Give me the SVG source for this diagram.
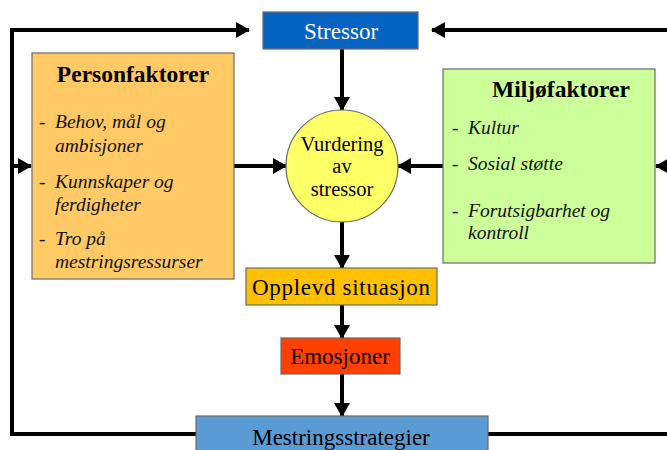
<svg xmlns="http://www.w3.org/2000/svg" width="667" height="450" viewBox="0 0 667 450">
<style>
text{font-family:'Liberation Serif','Times New Roman','DejaVu Serif',serif}
.box{stroke:#6b6b6b;stroke-width:1.2}
.t{font-size:23px;fill:#000}
.title{font-size:23.5px;font-weight:bold;fill:#000}
.it{font-size:19.5px;font-style:italic;fill:#111}
.d{font-size:19.5px;fill:#111}
.c{fill:none;stroke:#000;stroke-width:4}
</style>
<defs>
<marker id="ah" markerUnits="userSpaceOnUse" markerWidth="14" markerHeight="16" refX="13" refY="8" orient="auto">
<path d="M0,0 L14,8 L0,16 Z" fill="#000"/>
</marker>
</defs>
<rect width="667" height="450" fill="#fff"/>
<g id="connectors">
<polyline class="c" points="196,434 12,434 12,30 249,30" marker-end="url(#ah)"/>
<polyline class="c" points="488,434 671,434 671,30 432,30" marker-end="url(#ah)"/>
<line class="c" x1="12" y1="166" x2="31" y2="166" marker-end="url(#ah)"/>
<line class="c" x1="672" y1="166" x2="656" y2="166" marker-end="url(#ah)"/>
<line class="c" x1="342" y1="49" x2="342" y2="110" marker-end="url(#ah)"/>
<line class="c" x1="234" y1="166" x2="286" y2="166" marker-end="url(#ah)"/>
<line class="c" x1="443" y1="166" x2="398" y2="166" marker-end="url(#ah)"/>
<line class="c" x1="342" y1="222" x2="342" y2="268" marker-end="url(#ah)"/>
<line class="c" x1="342" y1="305" x2="342" y2="338" marker-end="url(#ah)"/>
<line class="c" x1="342" y1="374" x2="342" y2="416" marker-end="url(#ah)"/>
</g>
<g id="stressor">
<rect class="box" x="263" y="12" width="155" height="37" fill="#0563C1"/>
<text class="t" x="341" y="39" text-anchor="middle" style="fill:#fff">Stressor</text>
</g>
<g id="personfaktorer">
<rect class="box" x="32" y="53" width="202" height="226" fill="#FFC966"/>
<text class="title" x="133" y="82" text-anchor="middle">Personfaktorer</text>
<text class="d" x="39" y="128">-</text>
<text class="it" x="55" y="128">Behov, mål og</text>
<text class="it" x="55" y="152">ambisjoner</text>
<text class="d" x="39" y="188">-</text>
<text class="it" x="55" y="188">Kunnskaper og</text>
<text class="it" x="55" y="211">ferdigheter</text>
<text class="d" x="39" y="245">-</text>
<text class="it" x="55" y="245">Tro på</text>
<text class="it" x="55" y="268">mestringsressurser</text>
</g>
<g id="miljofaktorer">
<rect class="box" x="443" y="69" width="212" height="194" fill="#CCFF99"/>
<text class="title" x="561" y="97" text-anchor="middle">Miljøfaktorer</text>
<text class="d" x="452" y="134">-</text>
<text class="it" x="468" y="134">Kultur</text>
<text class="d" x="452" y="170">-</text>
<text class="it" x="468" y="170">Sosial støtte</text>
<text class="d" x="452" y="217">-</text>
<text class="it" x="468" y="217">Forutsigbarhet og</text>
<text class="it" x="468" y="239">kontroll</text>
</g>
<g id="vurdering">
<circle class="box" cx="342" cy="166" r="56" fill="#FFFF66"/>
<text class="t" x="342" y="151" text-anchor="middle" style="font-size:20.5px">Vurdering</text>
<text class="t" x="342" y="173" text-anchor="middle" style="font-size:20.5px">av</text>
<text class="t" x="342" y="196" text-anchor="middle" style="font-size:20.5px">stressor</text>
</g>
<g id="opplevd">
<rect class="box" x="246" y="268" width="191" height="37" fill="#FFC000"/>
<text class="t" x="341" y="295" text-anchor="middle" textLength="178" lengthAdjust="spacing">Opplevd situasjon</text>
</g>
<g id="emosjoner">
<rect class="box" x="281" y="338" width="119" height="36" fill="#FF4000"/>
<text class="t" x="340" y="364" text-anchor="middle">Emosjoner</text>
</g>
<g id="mestring">
<rect class="box" x="196" y="416" width="292" height="40" fill="#5B9BD5"/>
<text class="t" x="341" y="445" text-anchor="middle">Mestringsstrategier</text>
</g>
</svg>
